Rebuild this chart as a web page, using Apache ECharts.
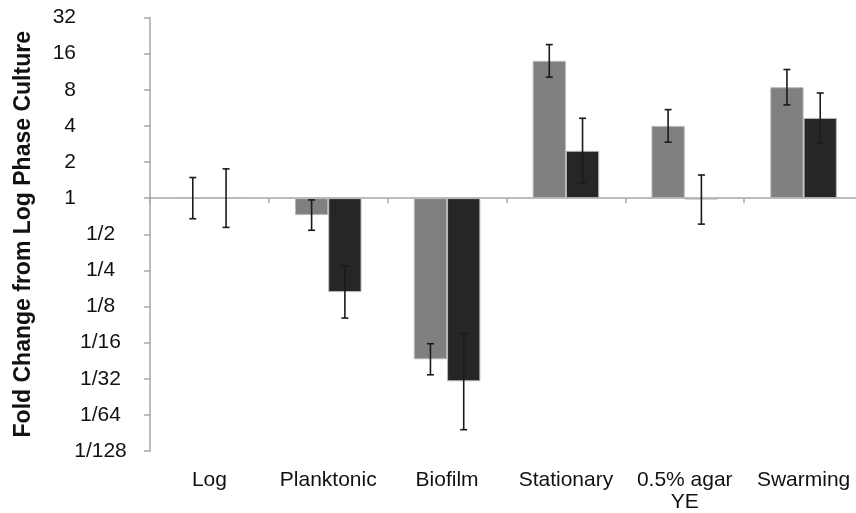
<!DOCTYPE html>
<html>
<head>
<meta charset="utf-8">
<script src="https://cdn.jsdelivr.net/npm/echarts@6/dist/echarts.min.js"></script>
<style>
html,body{margin:0;padding:0;background:#fff;}
#chart{width:856px;height:513px;}
</style>
</head>
<body>
<div id="chart"></div>
<script>
// Categories
var categories = ['Log', 'Planktonic', 'Biofilm', 'Stationary', '0.5% agar\nYE', 'Swarming'];
// Fold change expressed as log2 values (axis is log2)
var grayLog2 = [0, -0.47, -4.46, 3.80, 2.00, 3.07];
var grayErr = [0.57, 0.42, 0.43, 0.45, 0.45, 0.49];
var darkLog2 = [0, -2.60, -5.07, 1.31, -0.04, 2.22];
var darkErr = [0.81, 0.72, 1.34, 0.90, 0.68, 0.69];
// Tick labels (log2 exponent -> label)
var tickExps = [-7, -6, -5, -4, -3, -2, -1, 0, 1, 2, 3, 4, 5];
var tickLabels = ['1/128', '1/64', '1/32', '1/16', '1/8', '1/4', '1/2', '1', '2', '4', '8', '16', '32'];

var BAR_FRAC = 0.28;
var FONT = 'Liberation Sans, Arial, sans-serif';

function errData(vals, errs) {
  return vals.map(function (v, i) { return [i, v, v + errs[i], v - errs[i]]; });
}

function errRender(side) {
  return function (params, api) {
    var idx = api.value(0);
    var hi = api.coord([idx, api.value(2)]);
    var lo = api.coord([idx, api.value(3)]);
    var band = api.size([1, 0])[0];
    var x = hi[0] + side * band * BAR_FRAC / 2;
    var cap = 3.5;
    var style = { stroke: '#1a1a1a', lineWidth: 1.6 };
    return {
      type: 'group',
      children: [
        { type: 'line', shape: { x1: x, y1: hi[1], x2: x, y2: lo[1] }, style: style },
        { type: 'line', shape: { x1: x - cap, y1: hi[1], x2: x + cap, y2: hi[1] }, style: style },
        { type: 'line', shape: { x1: x - cap, y1: lo[1], x2: x + cap, y2: lo[1] }, style: style }
      ]
    };
  };
}

var chart = echarts.init(document.getElementById('chart'), null, { renderer: 'canvas' });
chart.setOption({
  animation: false,
  backgroundColor: '#ffffff',
  grid: { left: 150, right: -7, top: 17.5, bottom: 62, containLabel: false, outerBoundsMode: 'none' },
  xAxis: [
    {
      type: 'category',
      data: categories,
      position: 'bottom',
      axisLine: { show: false, onZero: false },
      axisTick: { show: false },
      axisLabel: {
        margin: 18,
        color: '#111',
        fontFamily: FONT,
        fontSize: 21,
        lineHeight: 22,
        interval: 0
      }
    },
    {
      type: 'category',
      data: categories,
      position: 'top',
      axisLine: { show: true, onZero: true, lineStyle: { color: '#a6a6a6', width: 1.5 } },
      axisTick: { show: true, inside: true, length: 5, lineStyle: { color: '#a6a6a6', width: 1.5 } },
      axisLabel: { show: false }
    }
  ],
  yAxis: {
    type: 'value',
    min: -7,
    max: 5,
    interval: 1,
    name: 'Fold Change from Log Phase Culture',
    nameLocation: 'middle',
    nameRotate: 90,
    nameGap: 115,
    nameMoveOverlap: false,
    nameTextStyle: {
      color: '#111',
      fontWeight: 'bold',
      fontSize: 23,
      fontFamily: FONT
    },
    axisLine: { show: true, lineStyle: { color: '#a6a6a6', width: 1.5 } },
    axisTick: { show: true, length: 6, lineStyle: { color: '#a6a6a6', width: 1.5 } },
    splitLine: { show: false },
    axisLabel: {
      margin: 20,
      color: '#111',
      fontFamily: FONT,
      fontSize: 21,
      formatter: function (v) {
        var i = tickExps.indexOf(Math.round(v));
        var lab = i >= 0 ? tickLabels[i] : '';
        if (lab.indexOf('/') >= 0) {
          return '{f|' + lab + '}';
        }
        return '{n|' + lab + '}{p| }';
      },
      rich: {
        n: { fontSize: 21, color: '#111', fontFamily: FONT },
        f: { fontSize: 21, color: '#111', width: 59, align: 'center', fontFamily: FONT },
        p: { fontSize: 21, width: 54 }
      }
    }
  },
  series: [
    {
      type: 'bar',
      xAxisIndex: 0,
      data: grayLog2,
      barWidth: (BAR_FRAC * 100) + '%',
      barGap: '0%',
      itemStyle: { color: '#808080', borderColor: '#b8b8b8', borderWidth: 1 }
    },
    {
      type: 'bar',
      xAxisIndex: 0,
      data: darkLog2,
      barWidth: (BAR_FRAC * 100) + '%',
      barGap: '0%',
      itemStyle: { color: '#262626', borderColor: '#b8b8b8', borderWidth: 1 }
    },
    {
      type: 'custom',
      xAxisIndex: 0,
      data: errData(grayLog2, grayErr),
      renderItem: errRender(-1),
      z: 5
    },
    {
      type: 'custom',
      xAxisIndex: 0,
      data: errData(darkLog2, darkErr),
      renderItem: errRender(1),
      z: 5
    }
  ]
});
</script>
</body>
</html>
